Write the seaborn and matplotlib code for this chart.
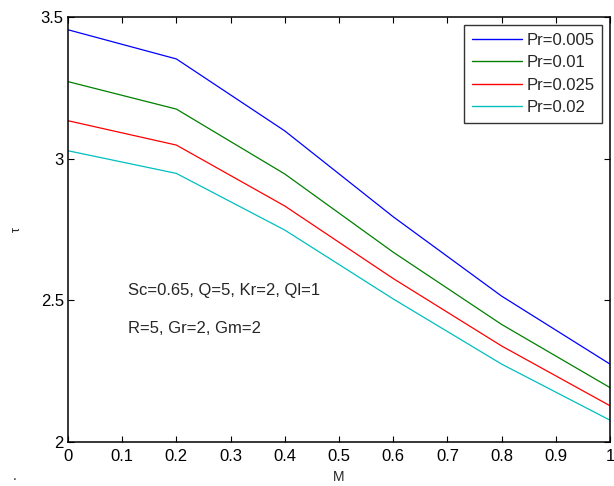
import numpy as np
import pandas as pd
import matplotlib
matplotlib.use("Agg")
import matplotlib.pyplot as plt
import seaborn as sns

M = [0.0, 0.2, 0.4, 0.6, 0.8, 1.0]
tau_pr_0005 = [3.455, 3.352, 3.098, 2.795, 2.515, 2.275]
tau_pr_001 = [3.272, 3.175, 2.946, 2.670, 2.415, 2.192]
tau_pr_0025 = [3.134, 3.048, 2.833, 2.577, 2.339, 2.128]
tau_pr_002 = [3.028, 2.948, 2.748, 2.505, 2.275, 2.077]
labels = ["Pr=0.005", "Pr=0.01", "Pr=0.025", "Pr=0.02"]
colors = ["#0000ff", "#008000", "#ff0000", "#00bfbf"]

df = pd.DataFrame({"M": M, labels[0]: tau_pr_0005, labels[1]: tau_pr_001,
                   labels[2]: tau_pr_0025, labels[3]: tau_pr_002})
long_df = df.melt(id_vars="M", var_name="series", value_name="tau")

sns.set_style("white")
plt.rcParams["font.family"] = ["Liberation Sans", "DejaVu Sans"]

fig = plt.figure(figsize=(6.14, 4.86), dpi=100)
ax = fig.add_axes([0.1107, 0.0905, 0.8828, 0.8745])

sns.lineplot(data=long_df, x="M", y="tau", hue="series", hue_order=labels,
             palette=colors, linewidth=0.9, ax=ax)

ax.set_xlim(0, 1)
ax.set_ylim(2, 3.5)
ax.set_xticks(np.arange(0, 1.01, 0.1))
ax.set_xticklabels(["0", "0.1", "0.2", "0.3", "0.4", "0.5", "0.6", "0.7", "0.8", "0.9", "1"])
ax.set_yticks([2, 2.5, 3, 3.5])
ax.set_yticklabels(["2", "2.5", "3", "3.5"])
ax.tick_params(direction="in", length=4, width=0.8, labelsize=12, top=True, right=True,
               bottom=True, left=True, colors="black")
ax.tick_params(axis="x", pad=5)
ax.tick_params(axis="y", pad=3)
for s in ax.spines.values():
    s.set_color("black")
    s.set_linewidth(1.1)

ax.set_xlabel("M", fontsize=10)
ax.xaxis.set_label_coords(0.5, -0.067)
ax.set_ylabel("τ", fontsize=9)
ax.yaxis.set_label_coords(-0.083, 0.5)

ax.text(0.111, 2.536, "Sc=0.65, Q=5, Kr=2, Ql=1", fontsize=12, va="center")
ax.text(0.111, 2.399, "R=5, Gr=2, Gm=2", fontsize=12, va="center")

leg = ax.legend(loc="upper right", bbox_to_anchor=(0.986, 0.981), fontsize=12,
                frameon=True, fancybox=False, edgecolor="black", handlelength=3.0,
                handletextpad=0.3, borderpad=0.45, labelspacing=0.45, borderaxespad=0)
leg.get_frame().set_linewidth(1.0)
for h in leg.get_lines():
    h.set_linewidth(1.0)
leg.set_title(None)

fig.text(0.021, 0.012, ".", fontsize=10)

fig.savefig("out.png", dpi=100)
